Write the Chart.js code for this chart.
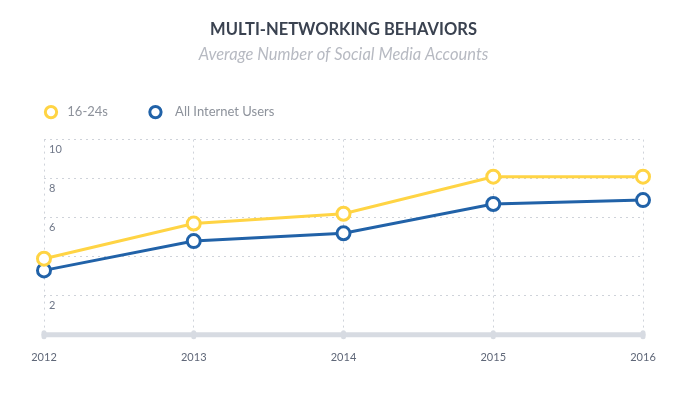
<!DOCTYPE html>
<html>
<head>
<meta charset="utf-8">
<script src="https://cdn.jsdelivr.net/npm/chart.js@4.4.1/dist/chart.umd.min.js"></script>
<style>
  html, body { margin: 0; padding: 0; background: #fff; }
  #wrap { width: 687px; height: 399px; }
</style>
</head>
<body>
<div id="wrap"><canvas id="behaviorsChart"></canvas></div>
<script>
var years = ['2012', '2013', '2014', '2015', '2016'];
var youngUsers = [3.9, 5.7, 6.2, 8.1, 8.1];
var allUsers = [3.3, 4.8, 5.2, 6.7, 6.9];
var yTicks = [0, 2, 4, 6, 8, 10];
var yTickLabels = ['', '2', '', '6', '8', '10'];  // 0 and 4 carry no label in the original

var yellow = '#ffd444';
var blue = '#2162a8';

// thick rounded baseline with little bumps at each year
var baseline = {
  id: 'baseline',
  afterDatasetsDraw: function(chart) {
    var ctx = chart.ctx;
    var xs = chart.scales.x;
    var y = chart.chartArea.bottom;
    ctx.save();
    ctx.strokeStyle = '#d7dbe2';
    ctx.lineCap = 'round';
    ctx.lineWidth = 5;
    ctx.beginPath();
    ctx.moveTo(chart.chartArea.left, y);
    ctx.lineTo(chart.chartArea.right, y);
    ctx.stroke();
    for (var i = 0; i < xs.ticks.length; i++) {
      var x = xs.getPixelForTick(i);
      ctx.beginPath();
      ctx.moveTo(x, y - 2);
      ctx.lineTo(x, y + 2);
      ctx.stroke();
    }
    ctx.restore();
  }
};

// extra room between legend and plot
var legendSpacer = {
  id: 'legendSpacer',
  beforeInit: function(chart) {
    var fit = chart.legend.fit;
    chart.legend.fit = function() {
      fit.bind(chart.legend)();
      this.height += 11;
    };
  }
};

var legendGap = [' ', '  '];

document.addEventListener('DOMContentLoaded', function() {
  var ctx = document.getElementById('behaviorsChart').getContext('2d');

  new Chart(ctx, {
    type: 'line',
    data: {
      labels: years,
      datasets: [{
        label: '16-24s',
        data: youngUsers,
        borderColor: yellow,
        backgroundColor: yellow,
        borderWidth: 3,
        pointRadius: 6.5,
        pointBorderWidth: 3,
        pointBackgroundColor: '#fff',
        pointBorderColor: yellow,
        tension: 0
      }, {
        label: 'All Internet Users',
        data: allUsers,
        borderColor: blue,
        backgroundColor: blue,
        borderWidth: 3,
        pointRadius: 6.5,
        pointBorderWidth: 3,
        pointBackgroundColor: '#fff',
        pointBorderColor: blue,
        tension: 0
      }]
    },
    options: {
      responsive: true,
      maintainAspectRatio: false,
      animation: false,
      layout: { padding: { left: 3.5, right: 3.5, top: 0, bottom: 18 } },
      plugins: {
        title: {
          display: true,
          text: 'MULTI-NETWORKING BEHAVIORS',
          color: '#3a4250',
          font: { family: 'Lato', size: 16.5, weight: 'bold' },
          padding: { top: 20, bottom: 5 }
        },
        subtitle: {
          display: true,
          text: 'Average Number of Social Media Accounts',
          color: '#b7bac2',
          font: { family: 'Lato', size: 16.5, style: 'italic' },
          padding: { top: 0, bottom: 0 }
        },
        legend: {
          align: 'start',
          labels: {
            usePointStyle: true,
            pointStyle: 'circle',
            boxWidth: 13,
            boxHeight: 8,
            padding: 41,
            color: '#8d929b',
            font: { family: 'Lato', size: 13 },
            generateLabels: function(chart) {
              var items = Chart.defaults.plugins.legend.labels.generateLabels(chart);
              items.forEach(function(item, i) { item.text = legendGap[i] + item.text; });
              return items;
            }
          }
        },
        tooltip: { enabled: false }
      },
      scales: {
        x: {
          grid: {
            color: '#cfd3da',
            drawTicks: false
          },
          border: { display: false, dash: [2, 4] },
          ticks: {
            color: '#5f6778',
            padding: 16.5,
            font: { family: 'Lato', size: 11 }
          }
        },
        y: {
          min: 0,
          max: 10,
          afterFit: function(s) { s.width = 40.5; },
          afterBuildTicks: function(s) {
            s.ticks = yTicks.map(function(v) { return { value: v }; });
          },
          grid: {
            color: '#cfd3da',
            drawTicks: false
          },
          border: { display: false, dash: [2, 4] },
          ticks: {
            mirror: true,
            autoSkip: false,
            padding: 5,
            color: '#6f7788',
            font: { family: 'Lato', size: 11, lineHeight: 1.82 },
            callback: function(v, i) {
              var t = yTickLabels[i];
              return t ? ['', t] : '';
            }
          }
        },
        yRight: {
          position: 'right',
          min: 0,
          max: 10,
          afterFit: function(s) { s.width = 40.5; },
          grid: { display: false },
          border: { display: false },
          ticks: { display: false }
        }
      }
    },
    plugins: [baseline, legendSpacer]
  });
});
</script>
</body>
</html>
